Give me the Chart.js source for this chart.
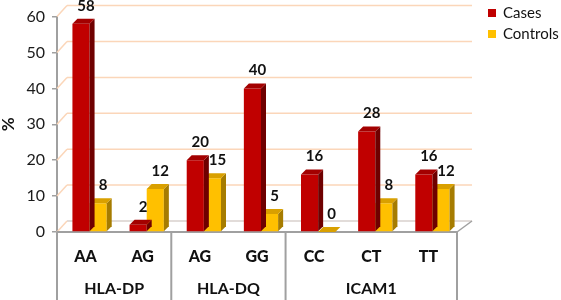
<!DOCTYPE html>
<html>
<head>
<meta charset="utf-8">
<script src="https://cdn.jsdelivr.net/npm/chart.js@4/dist/chart.umd.min.js"></script>
<style>
  body { margin: 0; background: #fff; }
  #wrap { width: 561px; height: 300px; position: relative; }
</style>
</head>
<body>
<div id="wrap"><canvas id="bars"></canvas></div>
<script>
var categories = ['AA', 'AG', 'AG', 'GG', 'CC', 'CT', 'TT'];
var groups = ['HLA-DP', 'HLA-DQ', 'ICAM1'];
var groupSizes = [2, 2, 3];
var cases = [58, 2, 20, 40, 16, 28, 16];
var controls = [8, 12, 15, 5, 0, 8, 12];
var yMax = 60;
var yStep = 10;

const FONT = 'Lato, "Open Sans", sans-serif';
const axisGrey = '#a0a0a0';
const gridPeach = '#fbd6b9';

// front, side, top colours for the fake 3d bars
const shades = [
  { front: '#c00000', side: '#6f0000', top: '#a30000' },
  { front: '#ffc000', side: '#a67c00', top: '#d9a000' }
];
const depthX = 5, depthY = 5;
const barShift = 4; // bars sit a little right of the category centre
const wallDY = 11;

const fake3d = {
  id: 'fake3d',
  beforeDatasetsDraw(chart) {
    const ctx = chart.ctx, a = chart.chartArea, y = chart.scales.y;
    ctx.save();
    const y0 = y.getPixelForValue(0);
    // gridlines on the back wall
    ctx.lineWidth = 1.5;
    for (let v = 0; v <= yMax; v += yStep) {
      const py = y.getPixelForValue(v);
      ctx.strokeStyle = v === 0 ? '#d8d0cc' : gridPeach;
      ctx.beginPath();
      ctx.moveTo(a.left + 10, py - wallDY);
      ctx.lineTo(a.right + 15, py - wallDY);
      ctx.stroke();
      ctx.strokeStyle = gridPeach;
      ctx.beginPath();
      ctx.moveTo(a.left, py);
      ctx.lineTo(a.left + 10, py - wallDY);
      ctx.stroke();
    }
    // right edge of floor + front edge
    ctx.strokeStyle = axisGrey;
    ctx.lineWidth = 1.5;
    ctx.beginPath();
    ctx.moveTo(a.right, y0);
    ctx.lineTo(a.right + 15, y0 - wallDY);
    ctx.stroke();
    ctx.lineWidth = 2;
    ctx.beginPath();
    ctx.moveTo(a.left, y0);
    ctx.lineTo(a.right + 1, y0);
    ctx.stroke();
    ctx.restore();
    ctx.save();
    ctx.translate(barShift, 0);
  },
  afterDatasetDraw(chart, args) {
    const ctx = chart.ctx;
    const c = shades[args.index];
    ctx.save();
    args.meta.data.forEach(function (el) {
      const p = el.getProps(['x', 'y', 'base', 'width'], true);
      const l = p.x - p.width / 2, r = p.x + p.width / 2;
      ctx.fillStyle = c.side;
      ctx.beginPath();
      ctx.moveTo(r, p.y);
      ctx.lineTo(r + depthX, p.y - depthY);
      ctx.lineTo(r + depthX, p.base - depthY);
      ctx.lineTo(r, p.base);
      ctx.closePath();
      ctx.fill();
      ctx.fillStyle = c.top;
      ctx.beginPath();
      ctx.moveTo(l, p.y);
      ctx.lineTo(l + depthX, p.y - depthY);
      ctx.lineTo(r + depthX, p.y - depthY);
      ctx.lineTo(r, p.y);
      ctx.closePath();
      ctx.fill();
    });
    ctx.restore();
  },
  afterDatasetsDraw(chart) {
    const ctx = chart.ctx;
    ctx.restore(); // undo the bar shift
    ctx.save();
    ctx.font = 'bold 15px ' + FONT;
    ctx.fillStyle = '#111';
    ctx.textAlign = 'center';
    ctx.textBaseline = 'middle';
    chart.data.datasets.forEach(function (ds, i) {
      chart.getDatasetMeta(i).data.forEach(function (el, j) {
        ctx.fillText(String(ds.data[j]), el.x + barShift + 5, el.y - 18);
      });
    });
    ctx.restore();
  },
  afterDraw(chart) {
    const ctx = chart.ctx, a = chart.chartArea;
    const step = (a.right - a.left) / categories.length;
    ctx.save();
    // group dividers below the axis
    ctx.strokeStyle = axisGrey;
    ctx.lineWidth = 2;
    let idx = 0;
    const edges = [a.left];
    groupSizes.forEach(function (n) { idx += n; edges.push(a.left + idx * step); });
    edges.forEach(function (ex) {
      ctx.beginPath();
      ctx.moveTo(ex, a.bottom);
      ctx.lineTo(ex, 300);
      ctx.stroke();
    });
    // group names
    ctx.font = 'bold 16px ' + FONT;
    ctx.fillStyle = '#111';
    ctx.textAlign = 'center';
    ctx.textBaseline = 'middle';
    groups.forEach(function (g, i) {
      ctx.fillText(g, (edges[i] + edges[i + 1]) / 2, 289);
    });
    // y title
    ctx.save();
    ctx.translate(9, (a.top + a.bottom) / 2);
    ctx.rotate(-Math.PI / 2);
    ctx.font = 'bold 17px ' + FONT;
    ctx.fillText('%', 0, 0);
    ctx.restore();
    // legend
    ctx.font = '15px ' + FONT;
    ctx.textAlign = 'left';
    chart.data.datasets.forEach(function (ds, i) {
      const ly = 13 + i * 21;
      ctx.fillStyle = ds.backgroundColor;
      ctx.fillRect(488, ly - 4, 8, 8);
      ctx.fillStyle = '#111';
      ctx.fillText(ds.label, 503, ly);
    });
    ctx.restore();
  }
};

new Chart(document.getElementById('bars'), {
  type: 'bar',
  data: {
    labels: categories,
    datasets: [
      { label: 'Cases', data: cases, backgroundColor: shades[0].front },
      { label: 'Controls', data: controls, backgroundColor: shades[1].front }
    ]
  },
  options: {
    responsive: true,
    maintainAspectRatio: false,
    animation: false,
    layout: { padding: { top: 16, right: 104, left: 0, bottom: 0 } },
    datasets: { bar: { barPercentage: 1, categoryPercentage: 0.6 } },
    plugins: { legend: { display: false }, tooltip: { enabled: false } },
    scales: {
      x: {
        grid: { display: false },
        border: { display: false },
        ticks: { color: '#111', padding: 7, font: { family: FONT, size: 16, weight: 900 } },
        afterFit: function (s) { s.height = 68; }
      },
      y: {
        min: 0,
        max: yMax,
        ticks: { stepSize: yStep, color: '#1a1a1a', padding: 7, font: { family: FONT, size: 16 } },
        grid: { drawOnChartArea: false, tickLength: 5, tickColor: axisGrey, lineWidth: 1.5 },
        border: { color: axisGrey, width: 2 },
        afterFit: function (s) { s.width = 57; }
      }
    }
  },
  plugins: [fake3d]
});
</script>
</body>
</html>
